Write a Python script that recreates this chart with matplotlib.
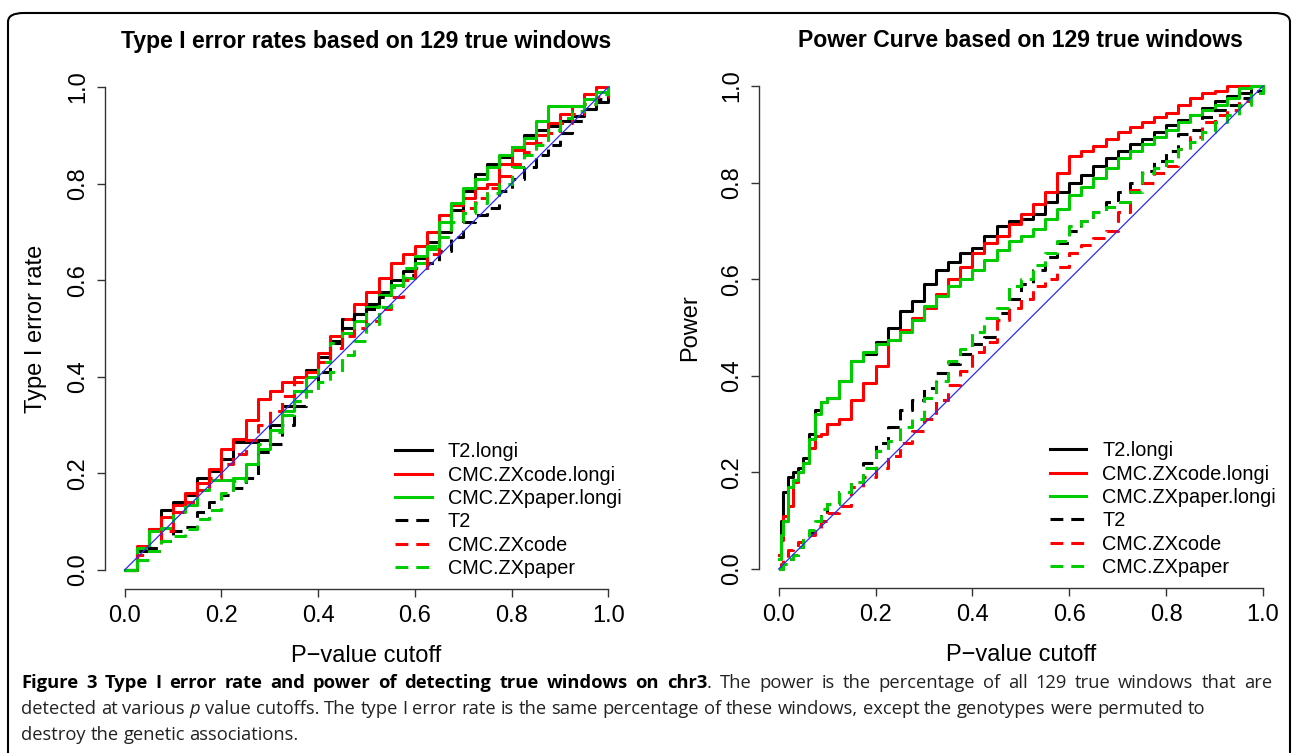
import matplotlib
matplotlib.use("Agg")
import matplotlib.pyplot as plt
from matplotlib.patches import FancyBboxPatch, Rectangle

# p-value cutoffs at which the curves were read
p_left = [0, 0.025, 0.05, 0.075, 0.1, 0.125, 0.15, 0.175, 0.2, 0.225, 0.25,
          0.275, 0.3, 0.325, 0.35, 0.375, 0.4, 0.425, 0.45, 0.475, 0.5,
          0.525, 0.55, 0.575, 0.6, 0.625, 0.65, 0.675, 0.7, 0.725, 0.75,
          0.775, 0.8, 0.825, 0.85, 0.875, 0.9, 0.925, 0.95, 0.975, 1.0]
p_right = [0, 0.005, 0.01, 0.02, 0.03, 0.04, 0.05, 0.0625, 0.075, 0.0875,
           0.1, 0.125, 0.15, 0.175, 0.2, 0.225, 0.25, 0.275, 0.3, 0.325,
           0.35, 0.375, 0.4, 0.425, 0.45, 0.475, 0.5, 0.525, 0.55, 0.575,
           0.6, 0.625, 0.65, 0.675, 0.7, 0.725, 0.75, 0.775, 0.8, 0.825,
           0.85, 0.875, 0.9, 0.925, 0.95, 0.975, 1.0]

# type I error rate (left panel)
err_t2_longi = [0, 0.04, 0.085, 0.124, 0.14, 0.155, 0.19, 0.205, 0.23, 0.265, 0.265,
                0.27, 0.30, 0.34, 0.37, 0.415, 0.44, 0.475, 0.50, 0.53, 0.55,
                0.575, 0.60, 0.62, 0.645, 0.68, 0.70, 0.745, 0.785, 0.82, 0.84,
                0.855, 0.875, 0.90, 0.91, 0.92, 0.93, 0.94, 0.955, 0.97, 1.0]
err_code_longi = [0, 0.05, 0.085, 0.11, 0.135, 0.16, 0.18, 0.21, 0.25, 0.272, 0.31,
                  0.355, 0.37, 0.39, 0.40, 0.41, 0.45, 0.485, 0.52, 0.55, 0.575,
                  0.605, 0.635, 0.655, 0.67, 0.70, 0.735, 0.755, 0.77, 0.79, 0.80,
                  0.84, 0.87, 0.885, 0.90, 0.925, 0.945, 0.96, 0.985, 1.0, 1.0]
err_paper_longi = [0, 0.045, 0.08, 0.087, 0.12, 0.135, 0.165, 0.186, 0.186, 0.19, 0.22,
                   0.25, 0.29, 0.33, 0.37, 0.40, 0.43, 0.47, 0.49, 0.515, 0.545,
                   0.57, 0.59, 0.605, 0.635, 0.665, 0.72, 0.76, 0.79, 0.81, 0.835,
                   0.86, 0.875, 0.895, 0.93, 0.96, 0.96, 0.96, 0.975, 0.99, 1.0]
err_t2 = [0, 0.02, 0.045, 0.06, 0.08, 0.09, 0.12, 0.14, 0.155, 0.17, 0.19,
          0.245, 0.26, 0.30, 0.34, 0.37, 0.41, 0.47, 0.52, 0.53, 0.54,
          0.565, 0.585, 0.61, 0.625, 0.635, 0.66, 0.69, 0.72, 0.735, 0.75,
          0.785, 0.81, 0.835, 0.86, 0.88, 0.905, 0.93, 0.955, 0.975, 1.0]
err_code = [0, 0.03, 0.04, 0.08, 0.12, 0.14, 0.165, 0.19, 0.22, 0.24, 0.27,
            0.30, 0.33, 0.36, 0.39, 0.41, 0.43, 0.46, 0.485, 0.50, 0.515,
            0.54, 0.565, 0.60, 0.625, 0.655, 0.69, 0.72, 0.75, 0.77, 0.79,
            0.815, 0.84, 0.865, 0.885, 0.905, 0.925, 0.945, 0.965, 0.98, 1.0]
err_paper = [0, 0.02, 0.04, 0.06, 0.07, 0.085, 0.105, 0.125, 0.16, 0.185, 0.22,
             0.26, 0.285, 0.32, 0.35, 0.37, 0.39, 0.41, 0.445, 0.475, 0.51,
             0.545, 0.585, 0.625, 0.65, 0.67, 0.69, 0.72, 0.74, 0.76, 0.78,
             0.80, 0.835, 0.86, 0.88, 0.91, 0.935, 0.95, 0.965, 0.985, 1.0]

# power (right panel)
pow_t2_longi = [0.03, 0.10, 0.16, 0.19, 0.20, 0.21, 0.23, 0.28, 0.33, 0.345,
                0.355, 0.39, 0.43, 0.445, 0.47, 0.50, 0.535, 0.555, 0.59, 0.62,
                0.635, 0.655, 0.665, 0.69, 0.71, 0.72, 0.725, 0.735, 0.76, 0.78,
                0.80, 0.815, 0.835, 0.85, 0.865, 0.88, 0.89, 0.905, 0.92, 0.93,
                0.94, 0.955, 0.97, 0.98, 0.985, 1.0, 1.0]
pow_code_longi = [0.03, 0.06, 0.11, 0.13, 0.18, 0.20, 0.22, 0.25, 0.275, 0.28,
                  0.30, 0.31, 0.35, 0.385, 0.42, 0.475, 0.495, 0.52, 0.54, 0.57,
                  0.60, 0.625, 0.655, 0.675, 0.69, 0.715, 0.735, 0.755, 0.78, 0.82,
                  0.855, 0.865, 0.875, 0.89, 0.905, 0.915, 0.925, 0.935, 0.945, 0.96,
                  0.975, 0.985, 0.99, 1.0, 1.0, 1.0, 1.0]
pow_paper_longi = [0.02, 0.07, 0.10, 0.17, 0.185, 0.20, 0.22, 0.27, 0.32, 0.345,
                   0.355, 0.39, 0.43, 0.45, 0.465, 0.474, 0.49, 0.515, 0.545, 0.565,
                   0.585, 0.60, 0.62, 0.64, 0.66, 0.68, 0.69, 0.705, 0.725, 0.745,
                   0.775, 0.79, 0.81, 0.83, 0.85, 0.865, 0.88, 0.895, 0.91, 0.925,
                   0.94, 0.95, 0.96, 0.975, 0.995, 1.0, 1.0]
pow_t2 = [0.0, 0.0, 0.01, 0.02, 0.03, 0.045, 0.06, 0.075, 0.09, 0.11,
          0.135, 0.16, 0.18, 0.22, 0.26, 0.295, 0.33, 0.35, 0.375, 0.405,
          0.425, 0.445, 0.465, 0.48, 0.53, 0.56, 0.59, 0.62, 0.645, 0.675,
          0.70, 0.72, 0.74, 0.76, 0.78, 0.80, 0.825, 0.845, 0.865, 0.90,
          0.91, 0.935, 0.95, 0.96, 0.975, 0.99, 1.0]
pow_code = [0.0, 0.01, 0.02, 0.04, 0.05, 0.055, 0.065, 0.07, 0.085, 0.10,
            0.115, 0.13, 0.17, 0.19, 0.21, 0.235, 0.26, 0.285, 0.31, 0.35,
            0.38, 0.41, 0.45, 0.47, 0.515, 0.54, 0.56, 0.585, 0.60, 0.625,
            0.655, 0.67, 0.685, 0.70, 0.74, 0.785, 0.80, 0.82, 0.835, 0.87,
            0.895, 0.925, 0.94, 0.95, 0.97, 0.985, 1.0]
pow_paper = [0.0, 0.0, 0.01, 0.02, 0.03, 0.045, 0.06, 0.08, 0.10, 0.125,
             0.135, 0.16, 0.18, 0.21, 0.245, 0.265, 0.295, 0.31, 0.355, 0.39,
             0.43, 0.455, 0.49, 0.52, 0.54, 0.585, 0.60, 0.63, 0.655, 0.68,
             0.71, 0.72, 0.74, 0.75, 0.76, 0.78, 0.82, 0.83, 0.845, 0.87,
             0.885, 0.905, 0.925, 0.94, 0.96, 0.985, 1.0]

labels = ["T2.longi", "CMC.ZXcode.longi", "CMC.ZXpaper.longi",
          "T2", "CMC.ZXcode", "CMC.ZXpaper"]
colors = ["black", "#ff0000", "#00cd00", "black", "#ff0000", "#00cd00"]
styles = ["-", "-", "-", (0, (4.2, 2.6)), (0, (4.2, 2.6)), (0, (4.2, 2.6))]
ticks = [0.0, 0.2, 0.4, 0.6, 0.8, 1.0]

plt.rcParams["font.family"] = ["Liberation Sans", "DejaVu Sans"]

fig = plt.figure(figsize=(12.93, 7.53), dpi=100)
ax1 = fig.add_axes([0.0814, 0.2174, 0.404, 0.6927])
ax2 = fig.add_axes([0.5872, 0.2187, 0.4046, 0.6927])


def panel(ax, p, series, title, ylabel):
    for vals, c, ls, lab in zip(series, colors, styles, labels):
        ax.plot(p, vals, color=c, ls=ls, lw=2.2, drawstyle="steps-post", label=lab)
    ax.plot([0, 1], [0, 1], color="#2b2bff", lw=0.9)
    ax.set_xlim(-0.04, 1.04)
    ax.set_ylim(-0.04, 1.04)
    for s in ["top", "right"]:
        ax.spines[s].set_visible(False)
    for s in ["left", "bottom"]:
        ax.spines[s].set_bounds(0, 1)
        ax.spines[s].set_linewidth(1.0)
        ax.spines[s].set_color("#333333")
    ax.set_xticks(ticks)
    ax.set_yticks(ticks)
    ax.set_xticklabels([f"{t:.1f}" for t in ticks])
    ax.set_yticklabels([f"{t:.1f}" for t in ticks], rotation=90, va="center")
    ax.tick_params(length=5.5, width=1.0, color="#333333", labelsize=17, pad=6)
    ax.set_title(title, fontsize=16.6, fontweight="bold", pad=14.5)
    ax.set_xlabel("P\u2212value cutoff", fontsize=17)
    ax.set_ylabel(ylabel, fontsize=17)
    ax.xaxis.set_label_coords(0.5, -0.107)
    ax.yaxis.set_label_coords(-0.112, 0.5)
    ax.legend(loc="upper left", bbox_to_anchor=(0.555, 0.282), frameon=False,
              fontsize=14.3, handlelength=1.85, handletextpad=0.8,
              labelspacing=0.22, borderpad=0, borderaxespad=0)


panel(ax1, p_left,
      [err_t2_longi, err_code_longi, err_paper_longi, err_t2, err_code, err_paper],
      "Type I error rates based on 129 true windows", "Type I error rate")
panel(ax2, p_right,
      [pow_t2_longi, pow_code_longi, pow_paper_longi, pow_t2, pow_code, pow_paper],
      "Power Curve based on 129 true windows", "Power")

# the caption strip covers the bottom of the x labels, as in the page
fig.patches.append(Rectangle((0, 0), 1, (753 - 662) / 753, transform=fig.transFigure,
                             facecolor="white", edgecolor="none", zorder=5))
fig.patches.append(FancyBboxPatch((8 / 1293, -0.1), 1282 / 1293, 0.1 + (753 - 13) / 753,
                                  boxstyle="round,pad=0,rounding_size=0.012",
                                  transform=fig.transFigure, facecolor="none",
                                  edgecolor="black", lw=1.5, zorder=6))

cap_size = 13.2
cap_font = ["Open Sans", "DejaVu Sans"]
renderer = fig.canvas.get_renderer()
base_gap = 0.26 * cap_size * fig.dpi / 72 / fig.bbox.width
x0 = 21 / 1293


def words(text, kw, last_space=True):
    ws = text.split()
    return [(w, kw, i < len(ws) - 1 or last_space) for i, w in enumerate(ws)]


def caption_line(y, pieces, right=None):
    items = []
    for s, kw, space in pieces:
        opts = {"color": "#222222"}
        opts.update(kw)
        t = fig.text(x0, y, s, fontsize=cap_size, family=cap_font,
                     va="baseline", zorder=7, **opts)
        w = t.get_window_extent(renderer=renderer).width / fig.bbox.width
        items.append((t, w, space))
    gap = base_gap
    if right is not None:
        n_gaps = sum(1 for _, _, sp in items[:-1] if sp)
        gap = (right - x0 - sum(w for _, w, _ in items)) / n_gaps
    x = x0
    for t, w, sp in items:
        t.set_x(x)
        x += w + (gap if sp else 0)


bold = {"fontweight": "bold", "color": "black"}
caption_line((753 - 688) / 753,
             words("Figure 3 Type I error rate and power of detecting true windows on chr3",
                   bold, last_space=False)
             + words(". The power is the percentage of all 129 true windows that are", {}),
             right=1272 / 1293)
caption_line((753 - 714) / 753,
             words("detected at various", {})
             + [("p", {"style": "italic"}, True)]
             + words("value cutoffs. The type I error rate is the same percentage of "
                     "these windows, except the genotypes were permuted to", {}))
caption_line((753 - 740) / 753, words("destroy the genetic associations.", {}))

fig.savefig("out.png", dpi=100)
